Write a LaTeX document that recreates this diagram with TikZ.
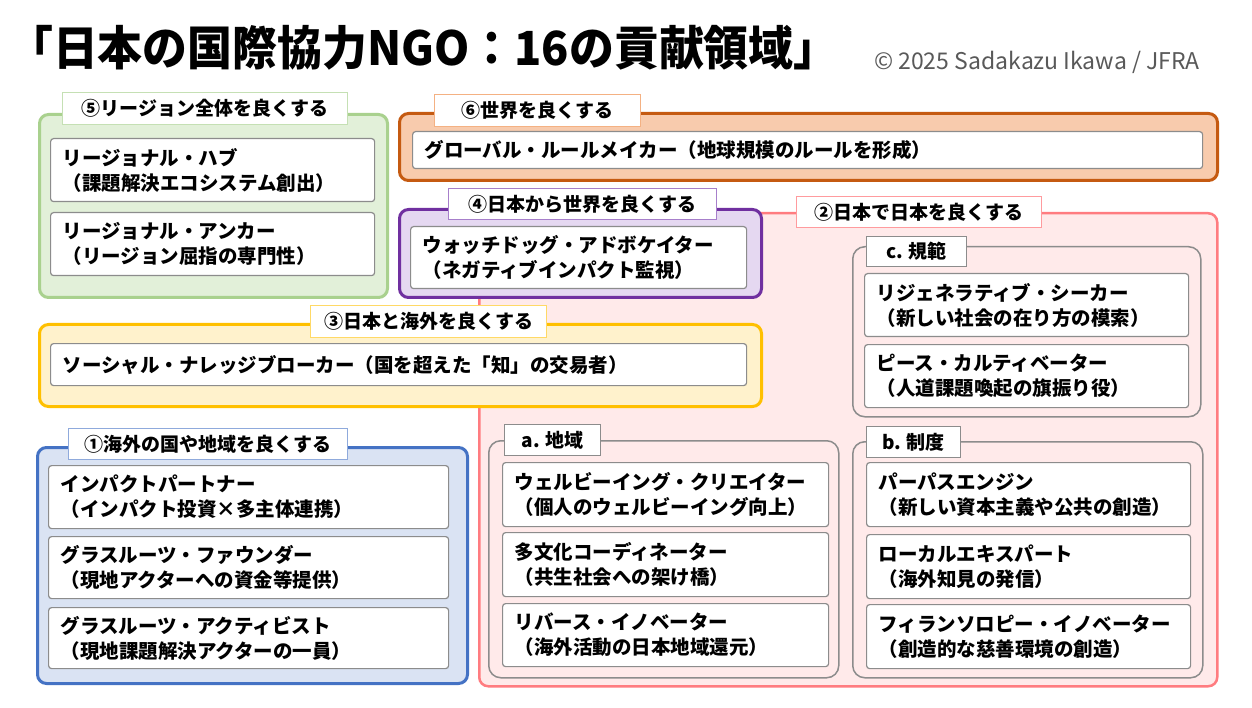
\documentclass[tikz,border=0pt]{standalone}
\usepackage{graphicx}
\usepackage{fontspec}
\setmainfont{Noto Sans CJK JP}
\definecolor{g5f}{HTML}{E2F0D9}\definecolor{g5d}{HTML}{A9D18E}\definecolor{l5d}{HTML}{C5E0B4}
\definecolor{g6f}{HTML}{F8CBAD}\definecolor{g6d}{HTML}{C55A11}\definecolor{l6d}{HTML}{F4B183}
\definecolor{g4f}{HTML}{E5D8F1}\definecolor{g4d}{HTML}{7030A0}\definecolor{l4d}{HTML}{A77FCB}
\definecolor{g2f}{HTML}{FFEAEA}\definecolor{g2d}{HTML}{FF7C80}\definecolor{l2d}{HTML}{FF9B9E}
\definecolor{g3f}{HTML}{FFF2CC}\definecolor{g3d}{HTML}{FFC000}\definecolor{l3d}{HTML}{FFD966}
\definecolor{g1f}{HTML}{DAE3F3}\definecolor{g1d}{HTML}{4472C4}\definecolor{l1d}{HTML}{8FAADC}
\definecolor{itemgray}{HTML}{8C8C8C}
\definecolor{copygray}{HTML}{595959}
\tikzset{
  grp/.style 2 args={draw=#2, fill=#1, line width=3pt, rounded corners=9pt, anchor=north west, inner sep=0pt},
  subgrp/.style={draw=itemgray, line width=1.5pt, rounded corners=12pt, anchor=north west, inner sep=0pt},
  lab/.style={fill=white, line width=1.2pt, anchor=north west, inner sep=0pt, font=\fontsize{19}{22}\selectfont\bfseries},
  itm/.style n args={3}{draw=itemgray, fill=white, line width=1.2pt, rounded corners=3pt, anchor=north west,
    align=left, inner xsep=12pt, inner ysep=0pt, minimum width=#1, minimum height=#2, text width=#3,
    font=\fontsize{19.5}{25}\selectfont\bfseries}
}
\begin{document}
\begin{tikzpicture}[x=1pt,y=-1pt]
\useasboundingbox[fill=white] (0,0) rectangle (1252,708);
% title
\node[anchor=west, inner sep=0pt, font=\fontsize{47}{50}\selectfont\bfseries] (title) at (8,48) {\scalebox{0.955}[1]{「日本の国際協力NGO：16の貢献領域」}};
\node[anchor=east, inner sep=0pt, text=copygray, font=\fontsize{23}{26}\selectfont] (copy) at (1200,62) {© 2025 Sadakazu Ikawa / JFRA};

% group 2 (background)
\node[grp={g2f}{g2d}, line width=2.5pt, minimum width=738pt, minimum height=473pt] (g2) at (478,212) {};
\node[lab, draw=l2d, minimum width=245pt, minimum height=31pt] (l2) at (796,196) {②日本で日本を良くする};

% group 5
\node[grp={g5f}{g5d}, minimum width=348pt, minimum height=183pt] (g5) at (38,113) {};
\node[lab, draw=l5d, minimum width=285pt, minimum height=32pt] (l5) at (62,92) {⑤リージョン全体を良くする};
\node[itm={324pt}{63pt}{300pt}] (r1) at (50,138) {リージョナル・ハブ\\（課題解決エコシステム創出）};
\node[itm={324pt}{63pt}{300pt}] (r2) at (50,212) {リージョナル・アンカー\\（リージョン屈指の専門性）};

% group 6
\node[grp={g6f}{g6d}, minimum width=818pt, minimum height=67pt] (g6) at (398,112) {};
\node[lab, draw=l6d, minimum width=206pt, minimum height=32pt] (l6) at (434,94) {⑥世界を良くする};
\node[itm={790pt}{37pt}{766pt}] (w1) at (412,131) {グローバル・ルールメイカー（地球規模のルールを形成）};

% group 4
\node[grp={g4f}{g4d}, minimum width=362pt, minimum height=88pt] (g4) at (398,208) {};
\node[lab, draw=l4d, minimum width=268pt, minimum height=31pt] (l4) at (448,188) {④日本から世界を良くする};
\node[itm={336pt}{62pt}{312pt}] (j1) at (410,226) {ウォッチドッグ・アドボケイター\\（ネガティブインパクト監視）};

% group 3
\node[grp={g3f}{g3d}, minimum width=722pt, minimum height=82pt] (g3) at (38,323) {};
\node[lab, draw=l3d, minimum width=236pt, minimum height=32pt] (l3) at (310,305) {③日本と海外を良くする};
\node[itm={696pt}{42pt}{672pt}] (k1) at (50,343) {ソーシャル・ナレッジブローカー（国を超えた「知」の交易者）};

% group 1
\node[grp={g1f}{g1d}, minimum width=430pt, minimum height=236pt] (g1) at (36,446) {};
\node[lab, draw=l1d, minimum width=279pt, minimum height=31pt] (l1) at (68,428) {①海外の国や地域を良くする};
\node[itm={400pt}{63pt}{376pt}] (o1) at (48,465) {インパクトパートナー\\（インパクト投資×多主体連携）};
\node[itm={400pt}{62pt}{376pt}] (o2) at (48,536) {グラスルーツ・ファウンダー\\（現地アクターへの資金等提供）};
\node[itm={400pt}{61pt}{376pt}] (o3) at (48,607) {グラスルーツ・アクティビスト\\（現地課題解決アクターの一員）};

% sub c
\node[subgrp, minimum width=348pt, minimum height=170pt] (sc) at (852,246) {};
\node[lab, draw=itemgray, minimum width=100pt, minimum height=30pt] (lc) at (866,236) {c. 規範};
\node[itm={324pt}{63pt}{300pt}] (c1) at (864,273) {リジェネラティブ・シーカー\\（新しい社会の在り方の模索）};
\node[itm={324pt}{63pt}{300pt}] (c2) at (864,344) {ピース・カルティベーター\\（人道課題喚起の旗振り役）};

% sub a
\node[subgrp, minimum width=350pt, minimum height=237pt] (sa) at (488,440) {};
\node[lab, draw=itemgray, minimum width=96pt, minimum height=31pt] (la) at (504,424) {a. 地域};
\node[itm={326pt}{64pt}{302pt}] (a1) at (502,462) {ウェルビーイング・クリエイター\\（個人のウェルビーイング向上）};
\node[itm={326pt}{64pt}{302pt}] (a2) at (502,532) {多文化コーディネーター\\（共生社会への架け橋）};
\node[itm={326pt}{63pt}{302pt}] (a3) at (502,603) {リバース・イノベーター\\（海外活動の日本地域還元）};

% sub b
\node[subgrp, minimum width=350pt, minimum height=236pt] (sb) at (852,441) {};
\node[lab, draw=itemgray, minimum width=94pt, minimum height=31pt] (lb) at (866,426) {b. 制度};
\node[itm={324pt}{64pt}{300pt}] (b1) at (866,462) {パーパスエンジン\\（新しい資本主義や公共の創造）};
\node[itm={324pt}{64pt}{300pt}] (b2) at (866,534) {ローカルエキスパート\\（海外知見の発信）};
\node[itm={324pt}{64pt}{300pt}] (b3) at (866,604) {フィランソロピー・イノベーター\\（創造的な慈善環境の創造）};
\end{tikzpicture}
\end{document}
